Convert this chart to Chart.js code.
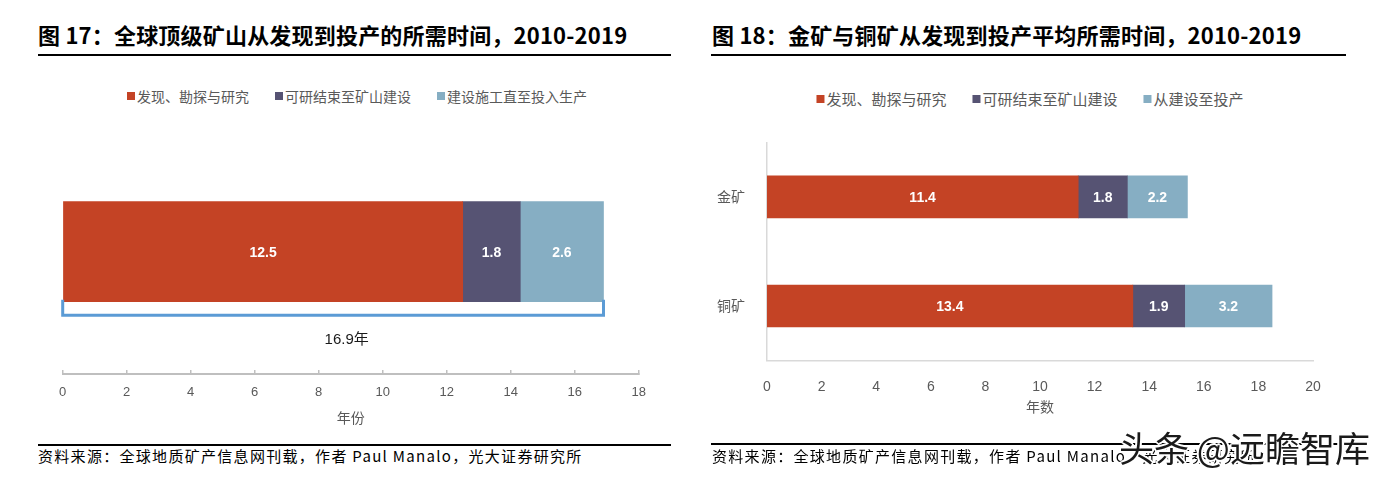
<!DOCTYPE html>
<html><head><meta charset="utf-8">
<script src="https://cdn.jsdelivr.net/npm/chart.js@4.4.1/dist/chart.umd.min.js"></script>
<style>
html,body{margin:0;padding:0;background:#fff;}
body{width:1385px;height:483px;position:relative;overflow:hidden;font-family:"Noto Sans CJK SC","Noto Sans",sans-serif;}
.abs{position:absolute;}
.title{font-size:22px;font-weight:bold;color:#000;line-height:26px;white-space:nowrap;letter-spacing:0.2px;}
.rule{background:#000;height:2px;}
.src{font-size:15px;letter-spacing:1.3px;color:#000;line-height:18px;white-space:nowrap;}
.legend{display:flex;align-items:center;white-space:nowrap;color:#595959;transform:translate(-50%,-50%);line-height:18px;}
.legend .item{display:flex;align-items:center;margin-right:26px;}
.legend .item:last-child{margin-right:0;}
.legend .box{width:8px;height:8px;margin-right:2px;flex:none;}
.wm{font-size:35px;line-height:38px;color:#1a1a1a;white-space:nowrap;
  text-shadow:2px 0 0 #fff,-2px 0 0 #fff,0 2px 0 #fff,0 -2px 0 #fff,1px 1px 0 #fff,-1px -1px 0 #fff,1px -1px 0 #fff,-1px 1px 0 #fff;}
</style></head>
<body>
<div class="abs title" style="left:38px;top:21px;">图 17：全球顶级矿山从发现到投产的所需时间，2010-2019</div>
<div class="abs rule" style="left:38px;top:54px;width:633px;"></div>
<div class="abs legend" id="legL" style="left:357px;top:96px;font-size:14px;"></div>
<div class="abs" style="left:38px;top:120px;width:632px;height:320px;"><canvas id="cL" width="632" height="320"></canvas></div>
<div class="abs rule" style="left:38px;top:444px;width:633px;"></div>
<div class="abs src" style="left:38px;top:447px;">资料来源：全球地质矿产信息网刊载，作者 Paul Manalo，光大证券研究所</div>

<div class="abs title" style="left:712px;top:21px;">图 18：金矿与铜矿从发现到投产平均所需时间，2010-2019</div>
<div class="abs rule" style="left:711px;top:54px;width:635px;"></div>
<div class="abs legend" id="legR" style="left:1030px;top:99px;font-size:15px;"></div>
<div class="abs" style="left:711px;top:120px;width:640px;height:320px;"><canvas id="cR" width="640" height="320"></canvas></div>
<div class="abs rule" style="left:711px;top:443px;width:635px;"></div>
<div class="abs src" style="left:712px;top:447px;">资料来源：全球地质矿产信息网刊载，作者 Paul Manalo，光大证券研究所</div>
<div class="abs wm" style="left:1119px;top:428px;">头条 @远瞻智库</div>

<script>
// ---- data ----
const seriesColors = ['#C44325', '#565373', '#86AEC3'];

const leftCategories = ['全球顶级矿山'];
const leftSeriesNames = ['发现、勘探与研究', '可研结束至矿山建设', '建设施工直至投入生产'];
const leftDiscovery = [12.5];
const leftStudyToBuild = [1.8];
const leftConstruction = [2.6];
const leftTickValues = [0, 2, 4, 6, 8, 10, 12, 14, 16, 18];
const leftAxisTitle = '年份';
const leftTotalUnit = '年';

const rightCategories = ['金矿', '铜矿'];
const rightSeriesNames = ['发现、勘探与研究', '可研结束至矿山建设', '从建设至投产'];
const rightDiscovery = [11.4, 13.4];
const rightStudyToBuild = [1.8, 1.9];
const rightConstruction = [2.2, 3.2];
const rightTickValues = [0, 2, 4, 6, 8, 10, 12, 14, 16, 18, 20];
const rightAxisTitle = '年数';

// ---- html legends ----
function buildLegend(id, names) {
  const el = document.getElementById(id);
  names.forEach((n, i) => {
    const it = document.createElement('div'); it.className = 'item';
    const b = document.createElement('span'); b.className = 'box'; b.style.background = seriesColors[i];
    const t = document.createElement('span'); t.textContent = n;
    it.appendChild(b); it.appendChild(t); el.appendChild(it);
  });
}
buildLegend('legL', leftSeriesNames);
buildLegend('legR', rightSeriesNames);

// ---- plugins ----
const barLabels = {
  id: 'barLabels',
  afterDatasetsDraw(chart, args, opts) {
    const ctx = chart.ctx;
    ctx.save();
    ctx.font = 'bold ' + opts.size + 'px "Liberation Sans", Arial, sans-serif';
    ctx.fillStyle = '#ffffff';
    ctx.textAlign = 'center';
    ctx.textBaseline = 'middle';
    chart.data.datasets.forEach((ds, di) => {
      chart.getDatasetMeta(di).data.forEach((el, i) => {
        const p = el.getProps(['x', 'y', 'base'], true);
        ctx.fillText(ds.data[i].toFixed(1), (p.x + p.base) / 2, p.y + 1);
      });
    });
    ctx.restore();
  }
};

const totalBracket = {
  id: 'totalBracket',
  afterDatasetsDraw(chart) {
    const ctx = chart.ctx;
    const xs = chart.scales.x;
    const el = chart.getDatasetMeta(0).data[0];
    const p = el.getProps(['y', 'height'], true);
    const total = chart.data.datasets.reduce((s, ds) => s + ds.data[0], 0);
    const x0 = xs.getPixelForValue(0), x1 = xs.getPixelForValue(total);
    const yTop = p.y + p.height / 2 - 2;
    const yLine = p.y + p.height / 2 + 13.5;
    ctx.save();
    ctx.strokeStyle = '#5B9BD5';
    ctx.lineWidth = 3;
    ctx.lineJoin = 'miter';
    ctx.beginPath();
    ctx.moveTo(x0, yTop); ctx.lineTo(x0, yLine); ctx.lineTo(x1, yLine); ctx.lineTo(x1, yTop);
    ctx.stroke();
    ctx.font = '15px "Liberation Sans", "Noto Sans CJK SC", sans-serif';
    ctx.fillStyle = '#1a1a1a';
    ctx.textAlign = 'center';
    ctx.textBaseline = 'middle';
    ctx.fillText(total.toFixed(1) + leftTotalUnit, (chart.chartArea.left + chart.chartArea.right) / 2 - 4, yLine + 25);
    ctx.restore();
  }
};

const tickFont = (s) => ({ size: s, family: '"Liberation Sans", Arial, sans-serif' });
const cjkFont = (s) => ({ size: s, family: '"Noto Sans CJK SC", sans-serif' });

// ---- left chart ----
const leftValues = [leftDiscovery, leftStudyToBuild, leftConstruction];
new Chart(document.getElementById('cL'), {
  type: 'bar',
  data: {
    labels: leftCategories,
    datasets: leftSeriesNames.map((n, i) => ({
      label: n, data: leftValues[i], backgroundColor: seriesColors[i], borderWidth: 0, barThickness: 100
    }))
  },
  options: {
    indexAxis: 'y', responsive: false, animation: false,
    layout: { padding: { left: 24.7, right: 31.3, top: 9.4, bottom: 0 } },
    plugins: { legend: { display: false }, tooltip: { enabled: false }, barLabels: { size: 14 } },
    scales: {
      x: {
        stacked: true, min: leftTickValues[0], max: leftTickValues[leftTickValues.length - 1],
        ticks: { stepSize: leftTickValues[1] - leftTickValues[0], padding: 14.2, color: '#595959', font: tickFont(13) },
        grid: { display: true, drawOnChartArea: false, drawTicks: true, tickLength: -4, color: '#BFBFBF', lineWidth: 1.5 },
        border: { display: true, color: '#BFBFBF', width: 2 },
        title: { display: true, text: leftAxisTitle, color: '#595959', font: cjkFont(14), padding: { top: 0, bottom: 13.6 } },
        afterFit(s) { s.height = 66; }
      },
      y: { stacked: true, display: false }
    }
  },
  plugins: [barLabels, totalBracket]
});

// ---- right chart ----
const rightValues = [rightDiscovery, rightStudyToBuild, rightConstruction];
new Chart(document.getElementById('cR'), {
  type: 'bar',
  data: {
    labels: rightCategories,
    datasets: rightSeriesNames.map((n, i) => ({
      label: n, data: rightValues[i], backgroundColor: seriesColors[i], borderWidth: 0, barThickness: 42
    }))
  },
  options: {
    indexAxis: 'y', responsive: false, animation: false,
    layout: { padding: { left: 0, right: 38, top: 13, bottom: 0 } },
    plugins: { legend: { display: false }, tooltip: { enabled: false }, barLabels: { size: 14 } },
    scales: {
      x: {
        stacked: true, min: rightTickValues[0], max: rightTickValues[rightTickValues.length - 1],
        ticks: { stepSize: rightTickValues[1] - rightTickValues[0], padding: 10.6, color: '#595959', font: tickFont(14) },
        grid: { display: false },
        border: { display: true, color: '#D9D9D9', width: 1.5 },
        title: { display: true, text: rightAxisTitle, color: '#595959', font: cjkFont(14), padding: { top: 0, bottom: 24.9 } },
        afterFit(s) { s.height = 79.5; }
      },
      y: {
        stacked: true,
        ticks: { padding: 14, color: '#595959', font: cjkFont(14) },
        grid: { display: false },
        border: { display: true, color: '#D9D9D9', width: 1.5 },
        afterFit(s) { s.width = 56; }
      }
    }
  },
  plugins: [barLabels]
});
</script>
</body></html>
